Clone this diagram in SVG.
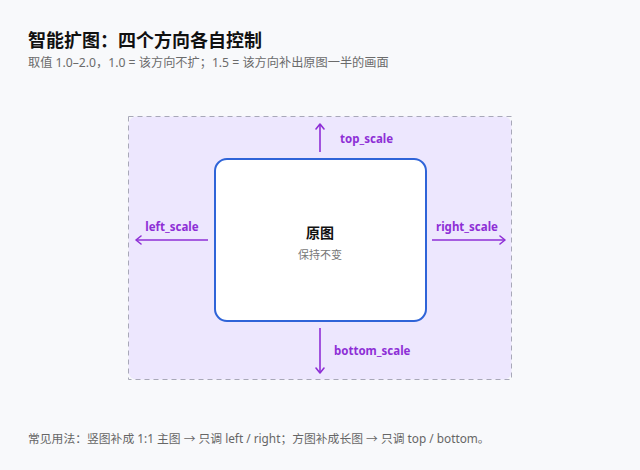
<svg xmlns="http://www.w3.org/2000/svg" width="640" height="470" viewBox="0 0 640 470">
<defs>
<style>
.t{font-family:"Noto Sans","Noto Sans CJK SC",sans-serif}
.title{font-size:18px;font-weight:700;fill:#111}
.sub{font-size:12.2px;fill:#6b6b6b}
.lbl{font-size:11.5px;font-weight:700;fill:#8e2fd6}
.arr{stroke:#8e2fd6;stroke-width:1.6;fill:none}
</style>
<marker id="ah" markerWidth="10" markerHeight="10" refX="8" refY="5" orient="auto" markerUnits="userSpaceOnUse">
<path d="M3,1 L8,5 L3,9" fill="none" stroke="#8e2fd6" stroke-width="1.6" stroke-linecap="round" stroke-linejoin="round"/>
</marker>
</defs>
<rect width="640" height="470" fill="#f8f9fb"/>
<text class="t title" x="28" y="47">智能扩图：四个方向各自控制</text>
<text class="t sub" x="28" y="67">取值 1.0–2.0，1.0 = 该方向不扩；1.5 = 该方向补出原图一半的画面</text>
<g id="canvas">
<rect x="128.5" y="116.5" width="383" height="263" rx="8" fill="#ede7fe"/>
<rect x="128.5" y="116.5" width="383" height="263" fill="none" stroke="#a8a8b8" stroke-width="1" stroke-dasharray="5,4"/>
</g>
<g id="original">
<rect x="215" y="159" width="211" height="162" rx="12" fill="#fff" stroke="#2f64d8" stroke-width="2"/>
<text class="t" x="320" y="238" text-anchor="middle" font-size="14" font-weight="700" fill="#111">原图</text>
<text class="t" x="320" y="259" text-anchor="middle" font-size="11" fill="#777">保持不变</text>
</g>
<g id="connectors">
<line class="arr" x1="320" y1="152" x2="320" y2="124" marker-end="url(#ah)"/>
<line class="arr" x1="208" y1="240" x2="136" y2="240" marker-end="url(#ah)"/>
<line class="arr" x1="432" y1="240" x2="505" y2="240" marker-end="url(#ah)"/>
<line class="arr" x1="320" y1="328" x2="320" y2="373" marker-end="url(#ah)"/>
</g>
<g id="labels">
<text class="t lbl" x="340" y="143">top_scale</text>
<text class="t lbl" x="172" y="231" text-anchor="middle">left_scale</text>
<text class="t lbl" x="467" y="231" text-anchor="middle">right_scale</text>
<text class="t lbl" x="334" y="355">bottom_scale</text>
</g>
<text class="t" x="28" y="443" font-size="11.8" fill="#666">常见用法：竖图补成 1:1 主图 → 只调 left / right；方图补成长图 → 只调 top / bottom。</text>
</svg>
